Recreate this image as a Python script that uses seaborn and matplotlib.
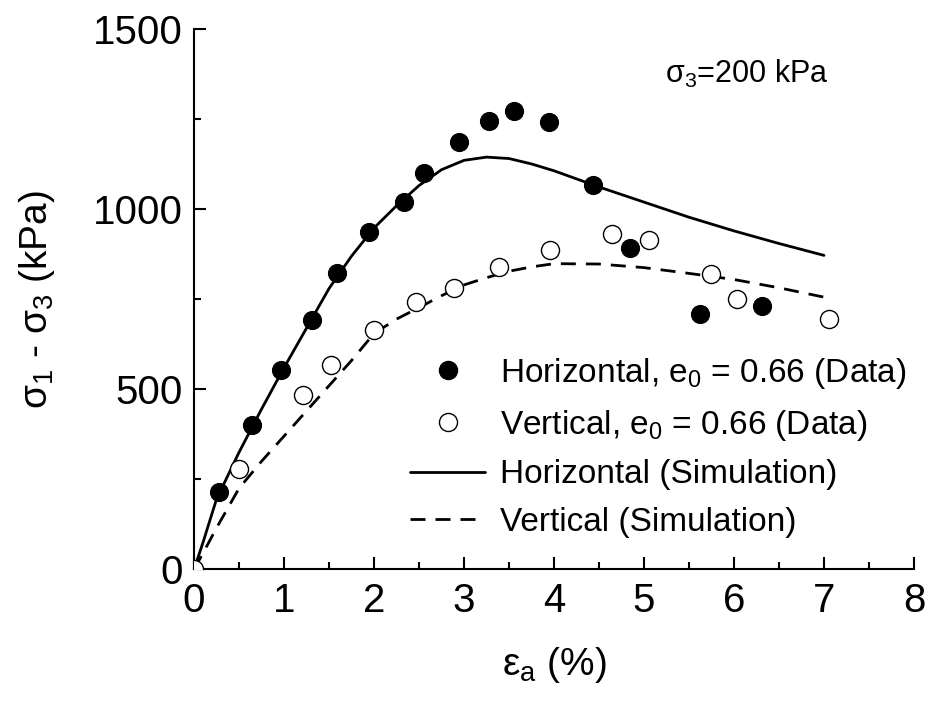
import matplotlib
matplotlib.use("Agg")
import matplotlib.pyplot as plt
from matplotlib.ticker import MultipleLocator
from matplotlib.lines import Line2D
import numpy as np
import pandas as pd
import seaborn as sns

# Measured stress-strain data (sigma_3 = 200 kPa)
horiz_strain = [0.28, 0.64, 0.97, 1.31, 1.59, 1.94, 2.33, 2.56, 2.94, 3.28,
                3.56, 3.94, 4.43, 4.84, 5.62, 6.31]
horiz_stress = [215, 400, 553, 692, 823, 937, 1020, 1101, 1187, 1245,
                1273, 1243, 1067, 893, 710, 731]

vert_strain = [0.0, 0.50, 1.21, 1.52, 2.00, 2.47, 2.89, 3.39, 3.96, 4.64,
               5.05, 5.74, 6.03, 7.06]
vert_stress = [0, 280, 483, 567, 664, 743, 782, 840, 886, 932,
               914, 821, 752, 696]

# Simulated curves
sim_strain = [0, 0.1, 0.25, 0.5, 0.75, 1.0, 1.25, 1.5, 1.75, 2.0, 2.25, 2.5,
              2.75, 3.0, 3.25, 3.5, 3.75, 4.0, 4.5, 5.0, 5.5, 6.0, 6.5, 7.0]
sim_horiz = [0, 75, 195, 325, 445, 560, 670, 780, 870, 948, 1010, 1066,
             1110, 1136, 1145, 1141, 1126, 1107, 1062, 1020, 978, 940, 905, 872]
sim_vert = [0, 45, 115, 225, 300, 370, 440, 510, 580, 655, 695, 727,
            760, 790, 810, 828, 840, 849, 848, 838, 822, 805, 782, 756]

x_ticks = [0, 1, 2, 3, 4, 5, 6, 7, 8]
y_ticks = [0, 500, 1000, 1500]

sns.set_style("ticks")
plt.rcParams["font.family"] = ["Liberation Sans", "DejaVu Sans"]
plt.rcParams["mathtext.fontset"] = "custom"
plt.rcParams["mathtext.rm"] = "Liberation Sans"
plt.rcParams["mathtext.it"] = "Liberation Sans:italic"
plt.rcParams["text.color"] = "black"
plt.rcParams["axes.labelcolor"] = "black"

df_h = pd.DataFrame({"strain": horiz_strain, "stress": horiz_stress})
df_v = pd.DataFrame({"strain": vert_strain, "stress": vert_stress})
df_sim = pd.DataFrame({"strain": sim_strain, "horiz": sim_horiz, "vert": sim_vert})

fig = plt.figure(figsize=(9.36, 7.06), dpi=100)
ax = fig.add_axes([0.2073, 0.1936, 0.7692, 0.7649])

lw = 2.0
dash = [5.4, 3.6]
sns.lineplot(data=df_sim, x="strain", y="horiz", ax=ax, color="black",
             linewidth=lw, zorder=2, estimator=None, sort=False)
sns.lineplot(data=df_sim, x="strain", y="vert", ax=ax, color="black",
             linewidth=lw, zorder=2, estimator=None, sort=False)
ax.lines[-1].set_dashes(dash)

ms = 13
sns.scatterplot(data=df_h, x="strain", y="stress", ax=ax, marker="o",
                s=ms ** 2, color="black", edgecolor="black", linewidth=0.8,
                zorder=3)
sns.scatterplot(data=df_v, x="strain", y="stress", ax=ax, marker="o",
                s=ms ** 2, facecolor="white", edgecolor="black",
                linewidth=1.0, zorder=3)

ax.set_xlim(0, 8)
ax.set_ylim(0, 1500)
ax.set_xticks(x_ticks)
ax.set_yticks(y_ticks)
ax.xaxis.set_minor_locator(MultipleLocator(0.5))
ax.yaxis.set_minor_locator(MultipleLocator(250))

for side in ["top", "right"]:
    ax.spines[side].set_visible(False)
for side in ["left", "bottom"]:
    ax.spines[side].set_linewidth(1.5)
    ax.spines[side].set_color("black")

ax.tick_params(which="major", direction="in", length=8.5, width=1.5,
               labelsize=29, pad=8, colors="black")
ax.tick_params(which="minor", direction="in", length=5, width=1.5,
               colors="black")
ax.tick_params(axis="x", which="major", pad=9)

ax.set_xlabel("ε$_\\mathrm{a}$ (%)", fontsize=28, labelpad=18)
ax.set_ylabel("σ$_\\mathrm{1}$ - σ$_\\mathrm{3}$ (kPa)", fontsize=28)
ax.yaxis.set_label_coords(-0.19, 0.5)

ax.text((665 - 194) / 720, (569.3 - 83) / 540, "σ$_\\mathrm{3}$=200 kPa",
        transform=ax.transAxes, fontsize=22, ha="left", va="baseline")

handles = [
    Line2D([], [], linestyle="none", marker="o", markersize=ms,
           markerfacecolor="black", markeredgecolor="black"),
    Line2D([], [], linestyle="none", marker="o", markersize=ms,
           markerfacecolor="white", markeredgecolor="black",
           markeredgewidth=1.0),
    Line2D([], [], color="black", linewidth=lw),
    Line2D([], [], color="black", linewidth=lw, dashes=dash),
]
labels = [
    "Horizontal, e$_\\mathrm{0}$ = 0.66 (Data)",
    "Vertical, e$_\\mathrm{0}$ = 0.66 (Data)",
    "Horizontal (Simulation)",
    "Vertical (Simulation)",
]
ax.legend(handles, labels, loc="upper left",
          bbox_to_anchor=(410 / 936, 1 - 356 / 706),
          bbox_transform=fig.transFigure, frameon=False, fontsize=24,
          handlelength=2.25, handletextpad=0.45, borderpad=0,
          borderaxespad=0, labelspacing=0.5)

fig.savefig("out.png", dpi=100)
